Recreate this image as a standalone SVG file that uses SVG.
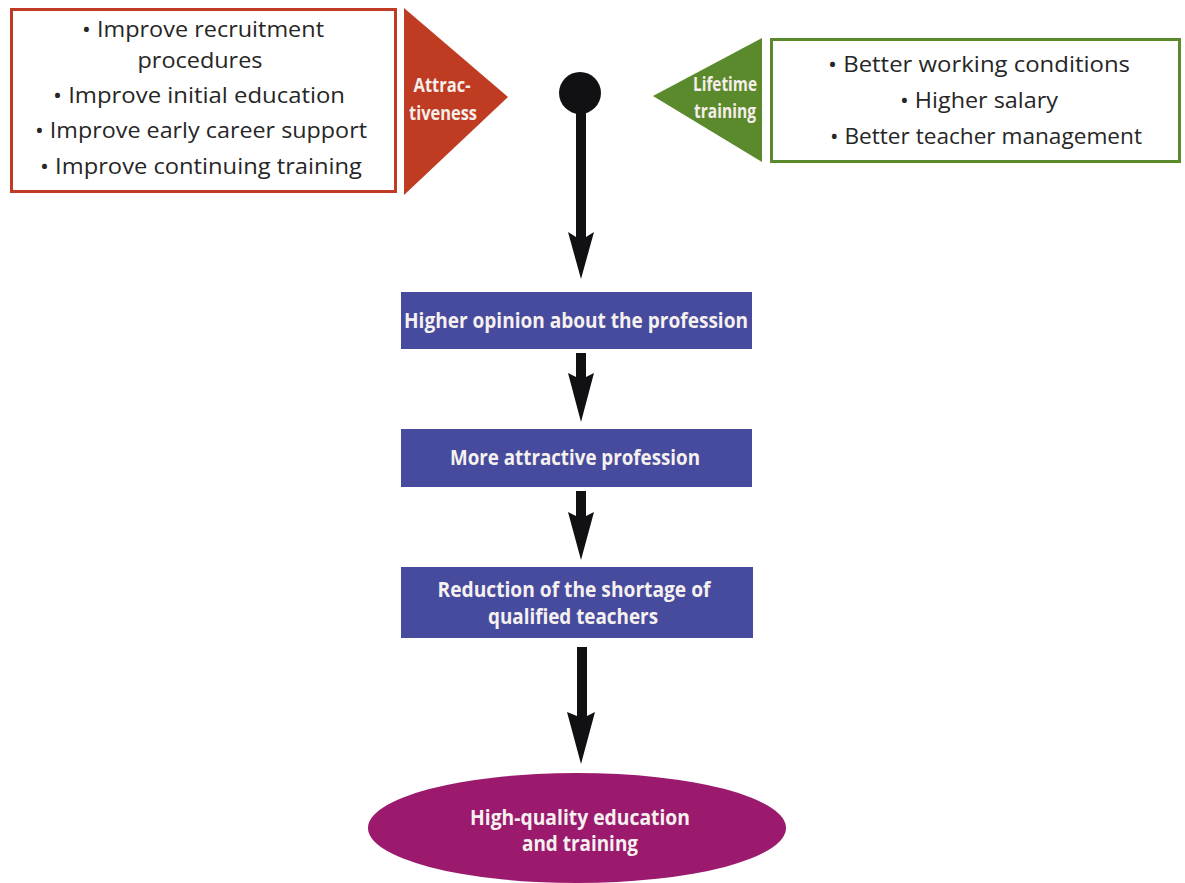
<svg xmlns="http://www.w3.org/2000/svg" width="1185" height="883" viewBox="0 0 1185 883">
<style>
.body{font-family:"Open Sans","Liberation Sans",sans-serif;font-size:21px;fill:#262626;text-anchor:middle}
.lbl{font-family:"Open Sans","Liberation Sans",sans-serif;font-weight:bold;font-size:21px;fill:#f6f1ef;text-anchor:middle}
.tri{font-family:"Open Sans","Liberation Sans",sans-serif;font-weight:bold;font-size:19px;fill:#f6eeea;text-anchor:middle}
.box{fill:#464b9e}
.arrow{fill:#111114}
</style>
<rect width="1185" height="883" fill="#ffffff"/>
<g id="attractiveness-box">
<rect x="11.5" y="9.5" width="384" height="182" fill="#ffffff" stroke="#bf3b25" stroke-width="3"/>
<text class="body" x="203" y="37" textLength="242" lengthAdjust="spacingAndGlyphs">• Improve recruitment</text>
<text class="body" x="200" y="68" textLength="125" lengthAdjust="spacingAndGlyphs">procedures</text>
<text class="body" x="199" y="103" textLength="292" lengthAdjust="spacingAndGlyphs">• Improve initial education</text>
<text class="body" x="201" y="138" textLength="332" lengthAdjust="spacingAndGlyphs">• Improve early career support</text>
<text class="body" x="201" y="174" textLength="322" lengthAdjust="spacingAndGlyphs">• Improve continuing training</text>
</g>
<g id="attractiveness-arrow">
<polygon points="404,8 508,97 404,195" fill="#bf3b22"/>
<text class="tri" x="442" y="92" textLength="57" lengthAdjust="spacingAndGlyphs">Attrac-</text>
<text class="tri" x="443" y="120" textLength="68" lengthAdjust="spacingAndGlyphs">tiveness</text>
</g>
<g id="lifetime-arrow">
<polygon points="762,38 653,96 762,162" fill="#5b8a2c"/>
<text class="tri" x="725" y="91" textLength="64" lengthAdjust="spacingAndGlyphs">Lifetime</text>
<text class="tri" x="725" y="118" textLength="62" lengthAdjust="spacingAndGlyphs">training</text>
</g>
<g id="lifetime-box">
<rect x="771.5" y="39.5" width="408" height="122" fill="#ffffff" stroke="#5b8a2c" stroke-width="3"/>
<text class="body" x="979" y="72" textLength="302" lengthAdjust="spacingAndGlyphs">• Better working conditions</text>
<text class="body" x="979" y="108" textLength="158" lengthAdjust="spacingAndGlyphs">• Higher salary</text>
<text class="body" x="986" y="144" textLength="312" lengthAdjust="spacingAndGlyphs">• Better teacher management</text>
</g>
<g id="start">
<circle cx="580" cy="93" r="21" fill="#111114"/>
</g>
<g id="connectors">
<polygon class="arrow" points="576,105 586,105 586,237 594,232 581,279 568,232 576,237"/>
<polygon class="arrow" points="576,353 586,353 586,377 594,373 581,422 568,373 576,377"/>
<polygon class="arrow" points="576,491 586,491 586,516 594,512 581,560 568,512 576,516"/>
<polygon class="arrow" points="577,647 587,647 587,716 595,712 581,764 567,712 577,716"/>
</g>
<g id="higher-opinion">
<rect class="box" x="401" y="292" width="351" height="57"/>
<text class="lbl" x="576" y="328" textLength="344" lengthAdjust="spacingAndGlyphs">Higher opinion about the profession</text>
</g>
<g id="more-attractive">
<rect class="box" x="401" y="429" width="351" height="58"/>
<text class="lbl" x="575" y="465" textLength="250" lengthAdjust="spacingAndGlyphs">More attractive profession</text>
</g>
<g id="reduction-shortage">
<rect class="box" x="401" y="567" width="352" height="71"/>
<text class="lbl" x="574" y="597" textLength="273" lengthAdjust="spacingAndGlyphs">Reduction of the shortage of</text>
<text class="lbl" x="573" y="624" textLength="170" lengthAdjust="spacingAndGlyphs">qualified teachers</text>
</g>
<g id="high-quality">
<ellipse cx="577" cy="828" rx="209" ry="55" fill="#9b1a6e"/>
<text class="lbl" x="580" y="825" textLength="220" lengthAdjust="spacingAndGlyphs">High-quality education</text>
<text class="lbl" x="580" y="851" textLength="116" lengthAdjust="spacingAndGlyphs">and training</text>
</g>
</svg>
